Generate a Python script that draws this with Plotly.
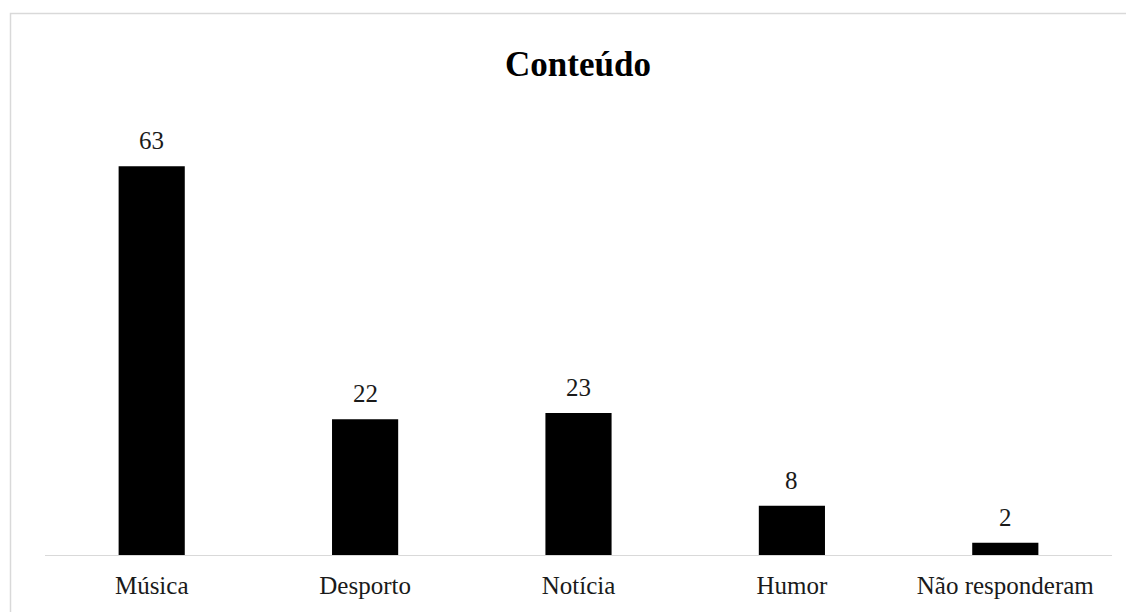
import plotly.graph_objects as go

categories = ["Música", "Desporto", "Notícia", "Humor", "Não responderam"]
values = [63, 22, 23, 8, 2]
title_text = "Conteúdo"

W, H = 1134, 612
OFF = 8  # page body margin
left, right = 45 - OFF, 1112 - OFF
bottom_y, top_y = 555 - OFF, 123 - OFF
ymax = 70

fig = go.Figure(go.Bar(
    x=categories, y=values,
    marker=dict(color="black", line=dict(width=0)),
    width=0.31, hoverinfo="x+y",
))

for c, v in zip(categories, values):
    fig.add_annotation(x=c, y=v, text=str(v), showarrow=False,
                       xref="x", yref="y", yanchor="bottom", yshift=10,
                       font=dict(family="Liberation Serif", size=25, color="#1a1a1a"))

pw = right - left
ph = bottom_y - top_y
fig.update_layout(
    width=W, height=H,
    margin=dict(l=left, r=W - right, t=top_y, b=H - bottom_y, pad=0),
    paper_bgcolor="white", plot_bgcolor="white",
    showlegend=False,
    title=dict(text="<b>" + title_text + "</b>", x=(578 - OFF) / W, xanchor="center",
               xref="container",
               y=1 - (64 - OFF) / H, yanchor="middle",
               font=dict(family="Liberation Serif", size=35, color="black")),
    xaxis=dict(showgrid=False, showline=True, linecolor="#d9d9d9", linewidth=1,
               ticks="", tickfont=dict(family="Liberation Serif", size=25, color="#1a1a1a"),
               ticklabelstandoff=8, fixedrange=True),
    yaxis=dict(range=[0, ymax], visible=False, showgrid=False, fixedrange=True),
    shapes=[dict(type="rect", xref="paper", yref="paper",
                 x0=(10.5 - OFF - left) / pw, x1=(1150 - left) / pw,
                 y0=(bottom_y - 640) / ph, y1=(bottom_y - (13.5 - OFF)) / ph,
                 line=dict(color="#d9d9d9", width=1.5), fillcolor="rgba(0,0,0,0)",
                 layer="below")],
)
fig.write_html("out.html")
